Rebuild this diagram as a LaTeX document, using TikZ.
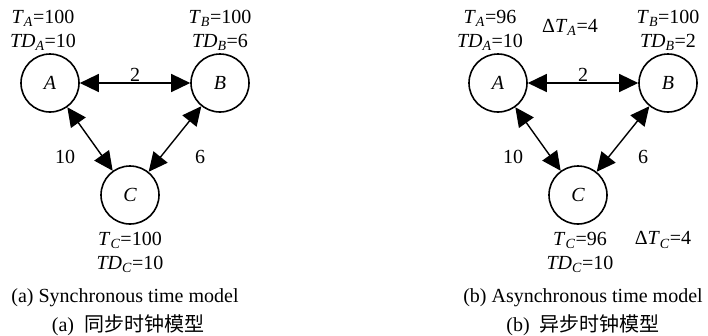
\documentclass[tikz,border=0pt]{standalone}
\usepackage{fontspec}
\setmainfont{Liberation Serif}
\newfontfamily\cjkfont{Noto Sans CJK SC}
\usetikzlibrary{arrows.meta}
% italic symbol with italic subscript
\newcommand{\sym}[2]{\textit{#1}\textsubscript{\textit{#2}}}
\tikzset{
    % site nodes
    site/.style={
        circle,
        draw=black,
        line width=1.6pt,
        minimum size=58pt,
        inner sep=0pt,
        font=\fontsize{20}{24}\selectfont\itshape
    },
    info/.style={
        align=center,
        inner sep=0pt
    },
    % links between sites, tips on both ends
    link/.style={
        {Triangle[length=19pt,width=18pt]}-{Triangle[length=19pt,width=18pt]},
        line width=1.4pt,
        draw=black
    },
    weight/.style={
        inner sep=0pt
    }
}

\begin{document}
\begin{tikzpicture}[x=1pt, y=-1pt, font=\fontsize{20}{24}\selectfont]
    \useasboundingbox (0,0) rectangle (708,335);

    % (a) synchronous
    \node[site] (a1) at (50,83) {A};
    \node[site] (b1) at (220,83) {B};
    \node[site] (c1) at (130,195) {C};

    \node[info] (ta1) at (43,30) {\sym{T}{A}=100\\\sym{TD}{A}=10};
    \node[info] (tb1) at (220,30) {\sym{T}{B}=100\\\sym{TD}{B}=6};
    \node[info] (tc1) at (130,252) {\sym{T}{C}=100\\\sym{TD}{C}=10};

    \draw[link] (a1) -- node[weight, above=1pt] (w1) {2} (b1);
    \draw[link] (a1) -- (c1);
    \draw[link] (b1) -- (c1);
    \node[weight] (w2) at (65,157) {10};
    \node[weight] (w3) at (200,157) {6};

    \node[info] (cap1) at (125,298) {(a) Synchronous time model};
    \node[info] (zh1) at (128,325) {(a)\ \ {\cjkfont 同步时钟模型}};

    % (b) asynchronous
    \node[site] (a2) at (498,83) {A};
    \node[site] (b2) at (668,83) {B};
    \node[site] (c2) at (578,195) {C};

    \node[info] (ta2) at (490,30) {\sym{T}{A}=96\\\sym{TD}{A}=10};
    \node[info] (da2) at (570,27) {Δ\sym{T}{A}=4};
    \node[info] (tb2) at (668,30) {\sym{T}{B}=100\\\sym{TD}{B}=2};
    \node[info] (tc2) at (580,252) {\sym{T}{C}=96\\\sym{TD}{C}=10};
    \node[info] (dc2) at (663,240) {Δ\sym{T}{C}=4};

    \draw[link] (a2) -- node[weight, above=1pt] (w4) {2} (b2);
    \draw[link] (a2) -- (c2);
    \draw[link] (b2) -- (c2);
    \node[weight] (w5) at (513,157) {10};
    \node[weight] (w6) at (643,157) {6};

    \node[info] (cap2) at (583,298) {(b) Asynchronous time model};
    \node[info] (zh2) at (583,325) {(b)\ \ {\cjkfont 异步时钟模型}};
\end{tikzpicture}
\end{document}
